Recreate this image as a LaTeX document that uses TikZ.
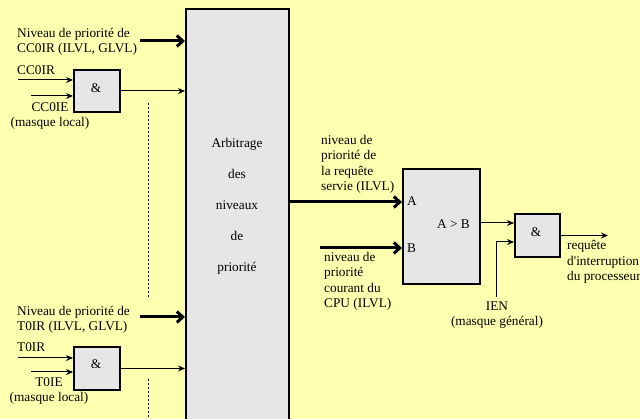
\documentclass[tikz,border=0pt]{standalone}
\usepackage{fontspec}
\setmainfont{Liberation Serif}[Ligatures=TeXOff]
\usetikzlibrary{arrows.meta}
\definecolor{bg}{HTML}{FFFFB0}
\definecolor{boxgray}{HTML}{E6E6E6}
\begin{document}
\begin{tikzpicture}[x=1pt,y=-1pt,
 every node/.style={font=\fontsize{13.3}{15.5}\selectfont, inner sep=0pt},
 gate/.style={draw, line width=2pt, fill=boxgray, anchor=north west},
 thinarrow/.style={line width=1pt, -{Stealth[length=7pt,width=6pt]}},
 thickarrow/.style={line width=3pt, -{Straight Barb[length=6pt,width=11pt]}},
 dotline/.style={line width=1pt, dash pattern=on 2pt off 2pt},
 lbl/.style={anchor=base west, align=left},
 clbl/.style={anchor=base, align=center},
 ]
\useasboundingbox (0,0) rectangle (640,419);
\fill[bg] (0,0) rectangle (640,419);
\clip (0,0) rectangle (640,419);

% arbitration block
\node[gate, minimum width=103pt, minimum height=440pt] (arb) at (185,8) {};
\node[clbl, font=\fontsize{13.3}{31}\selectfont] (arbtxt) at (237,272) {Arbitrage\\des\\niveaux\\de\\priorité};

% gates
\node[gate, minimum width=46pt, minimum height=42pt] (and1) at (73,69) {};
\node[clbl] (and1t) at (96,93) {\&};
\node[gate, minimum width=46pt, minimum height=43pt] (and2) at (73,346) {};
\node[clbl] (and2t) at (96,369) {\&};
\node[gate, minimum width=77pt, minimum height=115pt] (cmp) at (402,168) {};
\node[gate, minimum width=45pt, minimum height=43pt] (and3) at (514,213) {};
\node[clbl] (and3t) at (536,237) {\&};

% labels top
\node[lbl] (niv1) at (17,53) {Niveau de priorité de\\CC0IR (ILVL, GLVL)};
\node[lbl] (cc0ir) at (17,75) {CC0IR};
\node[clbl] (cc0ie) at (50,127) {CC0IE\\(masque local)};
% labels bottom
\node[lbl] (niv2) at (17,331) {Niveau de priorité de\\T0IR (ILVL, GLVL)};
\node[lbl] (t0ir) at (17,352) {T0IR};
\node[clbl] (t0ie) at (49,402) {T0IE\\(masque local)};
% comparator labels
\node[lbl] (servie) at (321,191) {niveau de\\priorité de\\la requête\\servie (ILVL)};
\node[lbl] (cpu) at (324,308) {niveau de\\priorité\\courant du\\CPU (ILVL)};
\node[lbl] (la) at (407,206) {A};
\node[lbl] (lb) at (407,253) {B};
\node[lbl] (agb) at (437,229) {A > B};
\node[lbl] (req) at (567,281) {requête\\d'interruption\\du processeur};
\node[clbl] (ien) at (497,326) {IEN\\(masque général)};

% coordinates
\coordinate (p1) at (140,41);
\coordinate (p2) at (140,317);
\coordinate (i1) at (18,80);
\coordinate (e1) at (31,96);
\coordinate (i2) at (18,358);
\coordinate (e2) at (31,372);
\coordinate (ya) at (0,202);
\coordinate (pb) at (320,248);
\coordinate (yc) at (0,223);
\coordinate (ienb) at (496,297);
\coordinate (ieny) at (0,242);
\coordinate (out) at (608,0);
\coordinate (d1a) at (148,103);
\coordinate (d1b) at (148,297);
\coordinate (d2a) at (148,379);
\coordinate (d2b) at (148,419);

% connectors
\draw[thickarrow] (p1) -- (p1 -| arb.west);
\draw[thickarrow] (p2) -- (p2 -| arb.west);
\draw[thinarrow] (i1) -- (i1 -| and1.west);
\draw[thinarrow] (e1) -- (e1 -| and1.west);
\draw[thinarrow] (i2) -- (i2 -| and2.west);
\draw[thinarrow] (e2) -- (e2 -| and2.west);
\draw[thinarrow] (and1.east) -- (and1.east -| arb.west);
\draw[thinarrow] (and2.east) -- (and2.east -| arb.west);
\draw[thickarrow] (arb.east |- ya) -- (cmp.west |- ya);
\draw[thickarrow] (pb) -- (pb -| cmp.west);
\draw[thinarrow] (cmp.east |- yc) -- (and3.west |- yc);
\draw[thinarrow] (ienb) |- (and3.west |- ieny);
\draw[thinarrow] (and3.east) -- (and3.east -| out);
\draw[dotline] (d1a) -- (d1b);
\draw[dotline] (d2a) -- (d2b);
\end{tikzpicture}
\end{document}
